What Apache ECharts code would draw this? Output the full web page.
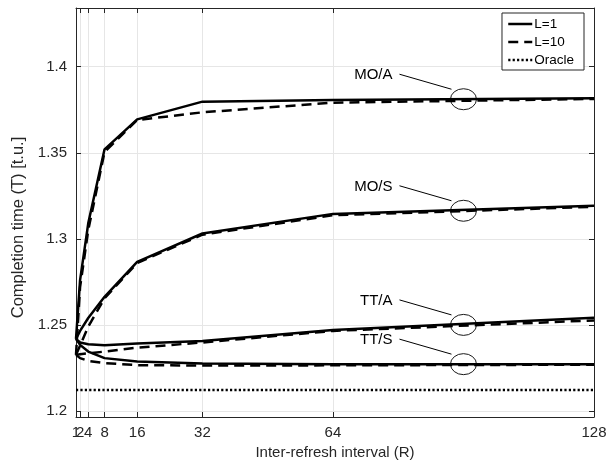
<!DOCTYPE html>
<html>
<head>
<meta charset="utf-8">
<script src="https://cdn.jsdelivr.net/npm/echarts@6/dist/echarts.min.js"></script>
<style>
  html, body { margin: 0; padding: 0; background: #ffffff; }
  #chart { width: 613px; height: 466px; }
</style>
</head>
<body>
<div id="chart"></div>
<script>
// Inter-refresh interval (R) sample points
const refreshIntervals = [1, 2, 4, 8, 16, 32, 64, 128];
const xTickValues = [1, 2, 4, 8, 16, 32, 64, 128];
// Tick labels that sit on top of their neighbour; drawn by the twin axis so they are not culled
const xCrowdedTickValues = [2];
const yTickValues = [1.2, 1.25, 1.3, 1.35, 1.4];

// Completion time (T) per policy, L=1
const moA_L1 = [1.2419, 1.2760, 1.3090, 1.3520, 1.3694, 1.3797, 1.3807, 1.3817];
const moS_L1 = [1.2419, 1.2465, 1.2540, 1.2663, 1.2866, 1.3031, 1.3145, 1.3192];
const ttA_L1 = [1.2419, 1.2398, 1.2388, 1.2382, 1.2392, 1.2406, 1.2470, 1.2542];
const ttS_L1 = [1.2419, 1.2384, 1.2345, 1.2307, 1.2287, 1.2276, 1.2271, 1.2272];

// Completion time (T) per policy, L=10
const moA_L10 = [1.2326, 1.2720, 1.3050, 1.3505, 1.3690, 1.3735, 1.3791, 1.3813];
const moS_L10 = [1.2326, 1.2380, 1.2490, 1.2655, 1.2860, 1.3024, 1.3137, 1.3186];
const ttA_L10 = [1.2326, 1.2330, 1.2335, 1.2345, 1.2368, 1.2398, 1.2465, 1.2526];
const ttS_L10 = [1.2326, 1.2307, 1.2291, 1.2278, 1.2266, 1.2264, 1.2265, 1.2269];

// Oracle lower bound
const oracleTime = 1.2122;

// Curve callouts: label, position along R, and the curve value there
const calloutLabels = ['MO/A', 'MO/S', 'TT/A', 'TT/S'];
const calloutR = 96;
const calloutT = [1.3811, 1.3163, 1.2500, 1.2272];

const FONT = '"Liberation Sans", Arial, Helvetica, sans-serif';
const INK = '#262626';
const TICK_FONT_SIZE = 15;
const NAME_FONT_SIZE = 15;

function pairs(values) {
  return refreshIntervals.map((r, i) => [r, values[i]]);
}

function curve(name, values, dash) {
  return {
    type: 'line',
    name: name,
    data: pairs(values),
    symbol: 'none',
    showSymbol: false,
    silent: true,
    color: '#000000',
    itemStyle: { color: '#000000' },
    lineStyle: { color: '#000000', width: 2.5, type: dash },
    z: 3
  };
}

const solid = 'solid';
const dashed = [10, 6];
const dotted = [2.2, 2.2];

const series = [
  curve('L=1', moA_L1, solid),
  curve('L=1', moS_L1, solid),
  curve('L=1', ttA_L1, solid),
  curve('L=1', ttS_L1, solid),
  curve('L=10', moA_L10, dashed),
  curve('L=10', moS_L10, dashed),
  curve('L=10', ttA_L10, dashed),
  curve('L=10', ttS_L10, dashed),
  curve('Oracle', refreshIntervals.map(() => oracleTime), dotted)
];

const xMin = 1, xMax = 128;
const yMin = 1.1965, yMax = 1.4341;
const gridTop = 8, gridBottom = 49, chartHeight = 466;
const plotHeight = chartHeight - gridTop - gridBottom;
const tickLabelMargin = 8;

const chart = echarts.init(document.getElementById('chart'), null, { renderer: 'canvas' });

const option = {
  animation: false,
  backgroundColor: '#ffffff',
  textStyle: { fontFamily: FONT },
  grid: { left: 76, right: 19, top: gridTop, bottom: gridBottom },
  legend: {
    data: ['L=1', 'L=10', 'Oracle'],
    orient: 'vertical',
    right: 29,
    top: 13,
    padding: [4, 10, 3, 5],
    itemGap: 4,
    itemWidth: 24,
    itemHeight: 14,
    backgroundColor: '#ffffff',
    borderColor: INK,
    borderWidth: 1,
    selectedMode: false,
    itemStyle: { opacity: 0 },
    lineStyle: { color: '#000000', width: 2.5 },
    textStyle: { color: '#000000', fontSize: 13.5, fontFamily: FONT, padding: [0, 0, 0, -3] }
  },
  xAxis: [
    {
      type: 'value',
      position: 'bottom',
      min: xMin,
      max: xMax,
      name: 'Inter-refresh interval (R)',
      nameLocation: 'middle',
      nameGap: 27,
      nameTextStyle: { color: INK, fontSize: NAME_FONT_SIZE, fontFamily: FONT },
      axisLine: { show: true, onZero: false, lineStyle: { color: INK, width: 1 } },
      axisTick: { show: true, inside: true, length: 5, customValues: xTickValues, lineStyle: { color: INK, width: 1 } },
      axisLabel: { show: true, customValues: xTickValues.filter(v => !xCrowdedTickValues.includes(v)),
                   color: INK, fontSize: TICK_FONT_SIZE, margin: tickLabelMargin, fontFamily: FONT,
                   hideOverlap: false, showMinLabel: true, showMaxLabel: true },
      splitLine: { show: true, lineStyle: { color: '#e6e6e6', width: 1 } }
    },
    {
      type: 'value',
      position: 'top',
      min: xMin,
      max: xMax,
      axisLine: { show: true, onZero: false, lineStyle: { color: INK, width: 1 } },
      axisTick: { show: true, inside: true, length: 5, customValues: xTickValues, lineStyle: { color: INK, width: 1 } },
      axisLabel: { show: true, inside: true, customValues: xCrowdedTickValues,
                   margin: plotHeight + tickLabelMargin, verticalAlign: 'top',
                   color: INK, fontSize: TICK_FONT_SIZE, fontFamily: FONT, hideOverlap: false },
      splitLine: { show: false }
    }
  ],
  yAxis: [
    {
      type: 'value',
      position: 'left',
      min: yMin,
      max: yMax,
      name: 'Completion time (T) [t.u.]',
      nameLocation: 'middle',
      nameGap: 48,
      nameTextStyle: { color: INK, fontSize: 16.5, fontFamily: FONT, padding: [0, 30, 0, 0] },
      axisLine: { show: true, onZero: false, lineStyle: { color: INK, width: 1 } },
      axisTick: { show: true, inside: true, length: 5, customValues: yTickValues, lineStyle: { color: INK, width: 1 } },
      axisLabel: { show: true, customValues: yTickValues, color: INK, fontSize: TICK_FONT_SIZE, margin: 9, fontFamily: FONT,
                   formatter: v => String(Number(v.toFixed(2))) },
      splitLine: { show: true, lineStyle: { color: '#e6e6e6', width: 1 } }
    },
    {
      type: 'value',
      position: 'right',
      min: yMin,
      max: yMax,
      axisLine: { show: true, onZero: false, lineStyle: { color: INK, width: 1 } },
      axisTick: { show: true, inside: true, length: 5, customValues: yTickValues, lineStyle: { color: INK, width: 1 } },
      axisLabel: { show: false },
      splitLine: { show: false }
    }
  ],
  series: series
};

chart.setOption(option);

// Callouts: label, leader line and an ellipse around each curve at R = calloutR
const calloutGraphics = [];
calloutLabels.forEach((label, i) => {
  const p = chart.convertToPixel({ xAxisIndex: 0, yAxisIndex: 0 }, [calloutR, calloutT[i]]);
  const cx = p[0], cy = p[1];
  calloutGraphics.push({
    type: 'circle',
    x: cx, y: cy,
    scaleY: 10.5 / 13,
    shape: { cx: 0, cy: 0, r: 13 },
    style: { fill: null, stroke: '#000000', lineWidth: 1, strokeNoScale: true },
    z: 10, silent: true
  });
  calloutGraphics.push({
    type: 'line',
    shape: { x1: cx - 64, y1: cy - 25, x2: cx - 12, y2: cy - 10 },
    style: { stroke: '#000000', lineWidth: 1 },
    z: 10, silent: true
  });
  calloutGraphics.push({
    type: 'text',
    x: cx - 71, y: cy - 24,
    style: {
      text: label,
      fill: '#000000',
      font: '15px ' + FONT,
      align: 'right', verticalAlign: 'middle',
      textAlign: 'right', textVerticalAlign: 'middle'
    },
    z: 10, silent: true
  });
});
chart.setOption({ graphic: calloutGraphics });
</script>
</body>
</html>
